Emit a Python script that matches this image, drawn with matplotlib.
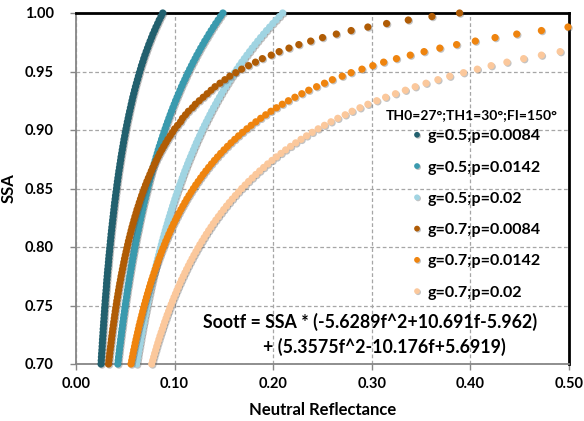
import matplotlib
matplotlib.use("Agg")
import matplotlib.pyplot as plt
import matplotlib.patheffects as pe

plt.rcParams['font.family'] = ['Lato', 'DejaVu Sans']
plt.rcParams['font.weight'] = 'bold'

# SSA sample levels (top of the chart downwards)
ssa = [1.000, 0.997, 0.994, 0.991, 0.988, 0.985, 0.982, 0.979, 0.976, 0.973,
       0.970, 0.967, 0.964, 0.961, 0.958, 0.955, 0.952, 0.949, 0.946, 0.943,
       0.940, 0.937, 0.934, 0.931, 0.928, 0.925, 0.922, 0.919, 0.916, 0.913,
       0.910, 0.907, 0.904, 0.901, 0.898, 0.895, 0.892, 0.889, 0.886, 0.883,
       0.880, 0.877, 0.874, 0.871, 0.868, 0.865, 0.862, 0.859, 0.856, 0.853,
       0.850, 0.847, 0.844, 0.841, 0.838, 0.835, 0.832, 0.829, 0.826, 0.823,
       0.820, 0.817, 0.814, 0.811, 0.808, 0.805, 0.802, 0.799, 0.796, 0.793,
       0.790, 0.787, 0.784, 0.781, 0.778, 0.775, 0.772, 0.769, 0.766, 0.763,
       0.760, 0.757, 0.754, 0.751, 0.748, 0.745, 0.742, 0.739, 0.736, 0.733,
       0.730, 0.727, 0.724, 0.721, 0.718, 0.715, 0.712, 0.709, 0.706, 0.703,
       0.700]

# neutral reflectance (same order as ssa, visible part only)
refl_g05_p0084 = [
    0.0880, 0.0862, 0.0844, 0.0828, 0.0811, 0.0796, 0.0780, 0.0766, 0.0752, 0.0738,
    0.0725, 0.0712, 0.0699, 0.0687, 0.0676, 0.0664, 0.0654, 0.0643, 0.0633, 0.0623,
    0.0613, 0.0603, 0.0594, 0.0585, 0.0576, 0.0568, 0.0560, 0.0552, 0.0544, 0.0536,
    0.0529, 0.0521, 0.0514, 0.0507, 0.0500, 0.0494, 0.0487, 0.0481, 0.0475, 0.0469,
    0.0463, 0.0457, 0.0452, 0.0446, 0.0441, 0.0435, 0.0430, 0.0425, 0.0420, 0.0415,
    0.0411, 0.0406, 0.0401, 0.0397, 0.0392, 0.0388, 0.0384, 0.0380, 0.0376, 0.0372,
    0.0368, 0.0364, 0.0360, 0.0356, 0.0353, 0.0349, 0.0346, 0.0342, 0.0339, 0.0335,
    0.0332, 0.0329, 0.0326, 0.0322, 0.0319, 0.0316, 0.0313, 0.0310, 0.0308, 0.0305,
    0.0302, 0.0299, 0.0296, 0.0294, 0.0291, 0.0289, 0.0286, 0.0284, 0.0281, 0.0279,
    0.0276, 0.0274, 0.0272, 0.0269, 0.0267, 0.0265, 0.0263, 0.0260, 0.0258, 0.0256,
    0.0254]

refl_g05_p0142 = [
    0.1490, 0.1465, 0.1441, 0.1417, 0.1394, 0.1371, 0.1349, 0.1328, 0.1306, 0.1286,
    0.1265, 0.1246, 0.1226, 0.1208, 0.1189, 0.1171, 0.1153, 0.1136, 0.1119, 0.1103,
    0.1086, 0.1070, 0.1055, 0.1040, 0.1025, 0.1010, 0.0996, 0.0982, 0.0968, 0.0955,
    0.0942, 0.0929, 0.0916, 0.0904, 0.0892, 0.0880, 0.0868, 0.0857, 0.0845, 0.0834,
    0.0824, 0.0813, 0.0803, 0.0792, 0.0782, 0.0772, 0.0763, 0.0753, 0.0744, 0.0735,
    0.0726, 0.0717, 0.0708, 0.0700, 0.0691, 0.0683, 0.0675, 0.0667, 0.0659, 0.0652,
    0.0644, 0.0637, 0.0630, 0.0622, 0.0615, 0.0608, 0.0602, 0.0595, 0.0588, 0.0582,
    0.0575, 0.0569, 0.0563, 0.0557, 0.0551, 0.0545, 0.0539, 0.0534, 0.0528, 0.0522,
    0.0517, 0.0512, 0.0506, 0.0501, 0.0496, 0.0491, 0.0486, 0.0481, 0.0476, 0.0472,
    0.0467, 0.0462, 0.0458, 0.0453, 0.0449, 0.0444, 0.0440, 0.0436, 0.0432, 0.0428,
    0.0424]

refl_g05_p02 = [
    0.2096, 0.2062, 0.2029, 0.1996, 0.1964, 0.1932, 0.1902, 0.1872, 0.1843, 0.1815,
    0.1787, 0.1760, 0.1733, 0.1707, 0.1681, 0.1656, 0.1632, 0.1608, 0.1585, 0.1562,
    0.1540, 0.1518, 0.1496, 0.1475, 0.1455, 0.1434, 0.1415, 0.1395, 0.1376, 0.1358,
    0.1340, 0.1322, 0.1304, 0.1287, 0.1270, 0.1254, 0.1237, 0.1221, 0.1206, 0.1191,
    0.1176, 0.1161, 0.1146, 0.1132, 0.1118, 0.1104, 0.1091, 0.1078, 0.1065, 0.1052,
    0.1040, 0.1027, 0.1015, 0.1003, 0.0992, 0.0980, 0.0969, 0.0958, 0.0947, 0.0936,
    0.0926, 0.0915, 0.0905, 0.0895, 0.0885, 0.0875, 0.0866, 0.0856, 0.0847, 0.0838,
    0.0829, 0.0820, 0.0812, 0.0803, 0.0795, 0.0786, 0.0778, 0.0770, 0.0762, 0.0755,
    0.0747, 0.0739, 0.0732, 0.0725, 0.0717, 0.0710, 0.0703, 0.0696, 0.0690, 0.0683,
    0.0676, 0.0670, 0.0663, 0.0657, 0.0651, 0.0645, 0.0638, 0.0632, 0.0627, 0.0621,
    0.0615]

refl_g07_p0084 = [
    0.389, 0.361, 0.337, 0.315, 0.296, 0.279, 0.264, 0.250, 0.238, 0.226,
    0.216, 0.206, 0.198, 0.189, 0.182, 0.175, 0.168, 0.162, 0.156, 0.151,
    0.146, 0.141, 0.137, 0.133, 0.129, 0.125, 0.121, 0.118, 0.114, 0.111,
    0.108, 0.106, 0.103, 0.100, 0.0979, 0.0955, 0.0932, 0.0911, 0.0890, 0.0870,
    0.0850, 0.0832, 0.0814, 0.0797, 0.0780, 0.0764, 0.0749, 0.0734, 0.0719, 0.0705,
    0.0692, 0.0679, 0.0666, 0.0654, 0.0642, 0.0631, 0.0619, 0.0609, 0.0598, 0.0588,
    0.0578, 0.0568, 0.0559, 0.0550, 0.0541, 0.0532, 0.0524, 0.0516, 0.0508, 0.0500,
    0.0492, 0.0485, 0.0478, 0.0471, 0.0464, 0.0457, 0.0451, 0.0444, 0.0438, 0.0432,
    0.0426, 0.0420, 0.0414, 0.0409, 0.0403, 0.0398, 0.0393, 0.0388, 0.0383, 0.0378,
    0.0373, 0.0368, 0.0364, 0.0359, 0.0355, 0.0351, 0.0346, 0.0342, 0.0338, 0.0334,
    0.0330]

refl_g07_p0142 = [
    0.499, 0.472, 0.447, 0.425, 0.405, 0.386, 0.369, 0.353, 0.339, 0.325,
    0.312, 0.301, 0.290, 0.279, 0.270, 0.260, 0.252, 0.244, 0.236, 0.229,
    0.222, 0.2154, 0.2092, 0.2033, 0.1977, 0.1924, 0.1873, 0.1824, 0.1777, 0.1733,
    0.1690, 0.1649, 0.1610, 0.1572, 0.1536, 0.1501, 0.1467, 0.1435, 0.1404, 0.1374,
    0.1345, 0.1317, 0.1290, 0.1264, 0.1239, 0.1214, 0.1191, 0.1168, 0.1146, 0.1124,
    0.1104, 0.1084, 0.1064, 0.1045, 0.1027, 0.1009, 0.0991, 0.0974, 0.0958, 0.0942,
    0.0927, 0.0911, 0.0897, 0.0882, 0.0868, 0.0855, 0.0841, 0.0829, 0.0816, 0.0804,
    0.0792, 0.0780, 0.0768, 0.0757, 0.0746, 0.0736, 0.0725, 0.0715, 0.0705, 0.0695,
    0.0686, 0.0677, 0.0668, 0.0659, 0.0650, 0.0641, 0.0633, 0.0625, 0.0617, 0.0609,
    0.0601, 0.0594, 0.0586, 0.0579, 0.0572, 0.0565, 0.0558]

refl_g07_p02 = [
    0.491, 0.472, 0.454, 0.437, 0.421, 0.407, 0.393, 0.379, 0.367, 0.355,
    0.344, 0.334, 0.324, 0.314, 0.305, 0.296, 0.288, 0.280, 0.273, 0.2655,
    0.2586, 0.2520, 0.2456, 0.2396, 0.2338, 0.2282, 0.2228, 0.2176, 0.2126, 0.2079,
    0.2032, 0.1988, 0.1944, 0.1903, 0.1863, 0.1824, 0.1787, 0.1750, 0.1715, 0.1681,
    0.1648, 0.1616, 0.1585, 0.1555, 0.1526, 0.1498, 0.1471, 0.1444, 0.1418, 0.1393,
    0.1369, 0.1345, 0.1322, 0.1300, 0.1278, 0.1256, 0.1236, 0.1216, 0.1196, 0.1177,
    0.1158, 0.1140, 0.1122, 0.1105, 0.1088, 0.1071, 0.1055, 0.1039, 0.1024, 0.1009,
    0.0994, 0.0980, 0.0966, 0.0952, 0.0939, 0.0925, 0.0913, 0.0900, 0.0888, 0.0876,
    0.0864, 0.0852, 0.0841, 0.0830, 0.0819, 0.0809, 0.0798, 0.0788, 0.0778, 0.0768]

labels = ['g=0.5;p=0.0084', 'g=0.5;p=0.0142', 'g=0.5;p=0.02',
          'g=0.7;p=0.0084', 'g=0.7;p=0.0142', 'g=0.7;p=0.02']
series = [refl_g05_p0084, refl_g05_p0142, refl_g05_p02,
          refl_g07_p0084, refl_g07_p0142, refl_g07_p02]
colors = ['#22606E', '#3A9AAE', '#A0D4E2', '#B05C05', '#EF840E', '#FBC89C']

fig = plt.figure(figsize=(5.84, 4.21), dpi=100)
ax = fig.add_axes([76 / 584, 1 - 364 / 421, 493 / 584, 351 / 421])

shadow = [pe.SimplePatchShadow(offset=(0.8, -0.8), shadow_rgbFace='#555555', alpha=0.35), pe.Normal()]
for r, lab, c in zip(series, labels, colors):
    y = ssa[len(ssa) - len(r):]
    ax.plot(r, y, 'o', ms=5.2, color=c, mec=c, mew=0, label=lab,
            clip_on=False, zorder=3, path_effects=shadow)

ax.set_xlim(0, 0.5)
ax.set_ylim(0.70, 1.00)
ax.set_xticks([0.0, 0.1, 0.2, 0.3, 0.4, 0.5])
ax.set_yticks([0.70, 0.75, 0.80, 0.85, 0.90, 0.95, 1.00])
ax.xaxis.set_major_formatter(matplotlib.ticker.FormatStrFormatter('%.2f'))
ax.yaxis.set_major_formatter(matplotlib.ticker.FormatStrFormatter('%.2f'))
ax.grid(True, color='#A6A6A6', linestyle=(0, (3, 2)), linewidth=0.9)
ax.set_axisbelow(True)
ax.tick_params(direction='out', length=4, width=1, color='#868686', labelsize=10.5)
ax.tick_params(axis='x', pad=5)
ax.tick_params(axis='y', pad=12)
for lab in ax.get_xticklabels() + ax.get_yticklabels():
    lab.set_fontweight('bold')

for side in ['left', 'bottom']:
    ax.spines[side].set_color('#868686')
    ax.spines[side].set_linewidth(1.3)
for side in ['top', 'right']:
    ax.spines[side].set_color('black')
    ax.spines[side].set_linewidth(2)

ax.set_xlabel('Neutral Reflectance', fontsize=12, fontweight='bold', labelpad=8)
ax.set_ylabel('SSA', fontsize=12, fontweight='bold', labelpad=6)

leg = ax.legend(loc='upper left', bbox_to_anchor=(0.682, 0.669), frameon=False,
                prop={'size': 11.5, 'weight': 'bold'},
                markerscale=0.8, handlelength=0.6, handletextpad=0.35,
                labelspacing=1.07, borderpad=0, borderaxespad=0)
ax.text(0.803, 0.709, 'TH0=27°;TH1=30°;FI=150°', transform=ax.transAxes,
        fontsize=10, fontweight='bold', ha='center', va='center')

ax.text(0.258, 0.1197, 'Sootf = SSA * (-5.6289f^2+10.691f-5.962)', transform=ax.transAxes,
        fontsize=12.8, fontweight='bold', va='center', ha='left')
ax.text(0.379, 0.0484, '+ (5.3575f^2-10.176f+5.6919)', transform=ax.transAxes,
        fontsize=12.8, fontweight='bold', va='center', ha='left')

fig.savefig('out.png', dpi=100)
